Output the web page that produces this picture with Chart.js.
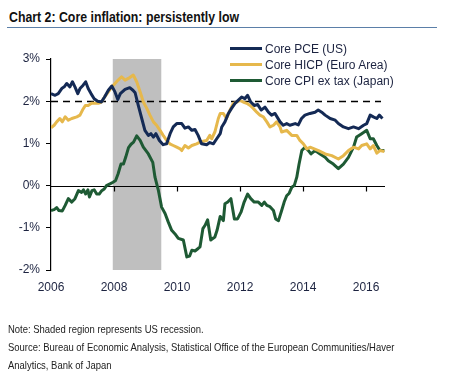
<!DOCTYPE html>
<html>
<head>
<meta charset="utf-8">
<script src="https://cdn.jsdelivr.net/npm/chart.js@4.4.1/dist/chart.umd.min.js"></script>
<style>
    html, body { margin: 0; padding: 0; background: #fff; }
    body { width: 449px; height: 387px; position: relative; overflow: hidden; font-family: "Liberation Sans", Arial, sans-serif; }
    #title { position: absolute; left: 9px; top: 9px; font: bold 14px "Liberation Sans", sans-serif; color: #111; white-space: nowrap; transform: scaleX(0.88); transform-origin: left top; }
    #rule { position: absolute; left: 7px; top: 27px; width: 430px; height: 0; border-top: 1.5px solid #5b7fa8; }
    #chart { position: absolute; left: 0; top: 0; }
    .legend { position: absolute; left: 230px; font-size: 12px; color: #1c2340; white-space: nowrap; }
    .legend span { display: inline-block; width: 32px; height: 3px; vertical-align: middle; margin-right: 3px; position: relative; top: -1px; }
    #notes { position: absolute; left: 8px; top: 320px; font: 11px "Liberation Sans", sans-serif; color: #222; line-height: 18px; white-space: nowrap; transform: scaleX(0.86); transform-origin: left top; }
</style>
</head>
<body>
<div id="title">Chart 2: Core inflation: persistently low</div>
<div id="rule"></div>
<canvas id="chart" width="449" height="387"></canvas>
<div class="legend" style="top:42px"><span style="background:#142a55"></span>Core PCE (US)</div>
<div class="legend" style="top:58px"><span style="background:#e6b84c"></span>Core HICP (Euro Area)</div>
<div class="legend" style="top:74px"><span style="background:#1e5a34"></span>Core CPI ex tax (Japan)</div>
<div id="notes">Note: Shaded region represents US recession.<br>Source: Bureau of Economic Analysis, Statistical Office of the European Communities/Haver<br>Analytics, Bank of Japan</div>
<script>
// Core inflation, % y/y (x = decimal year)

const pceYears = [2006.0, 2006.13, 2006.23, 2006.34, 2006.42, 2006.5, 2006.6, 2006.68, 2006.76, 2006.85, 2006.92,
    2007.02, 2007.1, 2007.18, 2007.27, 2007.37, 2007.48, 2007.6, 2007.7, 2007.82, 2007.93,
    2008.03, 2008.12, 2008.2, 2008.35, 2008.5, 2008.6, 2008.67, 2008.77, 2008.88, 2008.98,
    2009.09, 2009.17, 2009.25, 2009.33, 2009.44, 2009.56, 2009.67, 2009.78, 2009.88, 2009.99,
    2010.15, 2010.25, 2010.36, 2010.47, 2010.57, 2010.67, 2010.78, 2010.94,
    2011.04, 2011.15, 2011.26, 2011.37, 2011.42, 2011.52, 2011.63, 2011.73, 2011.84, 2011.94,
    2012.05, 2012.15, 2012.24, 2012.34, 2012.45, 2012.56, 2012.67, 2012.79, 2012.9,
    2013.0, 2013.11, 2013.27, 2013.37, 2013.48, 2013.58, 2013.75, 2013.85, 2013.95,
    2014.06, 2014.22, 2014.38, 2014.48, 2014.59, 2014.7, 2014.86,
    2015.02, 2015.12, 2015.28, 2015.44, 2015.6, 2015.76, 2015.92,
    2016.02, 2016.13, 2016.23, 2016.34, 2016.42, 2016.52];
const pceValues = [2.18, 2.14, 2.18, 2.30, 2.34, 2.42, 2.34, 2.46, 2.34, 2.18, 2.30,
    2.38, 2.46, 2.30, 2.18, 2.06, 2.00, 1.98, 2.10, 2.26, 2.36,
    2.22, 2.04, 2.18, 2.28, 2.32, 2.26, 2.20, 1.90, 1.59, 1.31,
    1.19, 1.23, 1.15, 1.23, 1.07, 0.97, 0.99, 1.23, 1.39, 1.47,
    1.47, 1.36, 1.39, 1.31, 1.33, 1.19, 0.99, 0.97,
    1.02, 0.99, 1.11, 1.23, 1.39, 1.51, 1.71, 1.83, 1.95, 2.02,
    2.10, 2.06, 2.14, 1.98, 1.90, 1.92, 1.79, 1.86, 1.74,
    1.67, 1.71, 1.51, 1.43, 1.47, 1.43, 1.47, 1.44, 1.59,
    1.67, 1.71, 1.74, 1.79, 1.74, 1.67, 1.59,
    1.55, 1.47, 1.39, 1.35, 1.39, 1.35, 1.43,
    1.47, 1.67, 1.63, 1.59, 1.67, 1.59];

const hicpYears = [2006.0, 2006.1, 2006.18, 2006.28, 2006.36, 2006.45, 2006.55, 2006.66, 2006.82, 2006.92,
    2007.0, 2007.09, 2007.18, 2007.29, 2007.4, 2007.5, 2007.6, 2007.7, 2007.82, 2007.93,
    2008.03, 2008.13, 2008.24, 2008.35, 2008.5, 2008.61, 2008.72, 2008.83, 2008.93,
    2009.04, 2009.14, 2009.25, 2009.35, 2009.46, 2009.56, 2009.67, 2009.77, 2009.88, 2009.99,
    2010.1, 2010.15, 2010.25, 2010.36, 2010.47, 2010.62, 2010.73, 2010.83, 2010.94,
    2011.04, 2011.1, 2011.2, 2011.31, 2011.37, 2011.47, 2011.57, 2011.68, 2011.79, 2011.9,
    2012.0, 2012.1, 2012.21, 2012.32, 2012.42, 2012.53, 2012.63, 2012.74, 2012.85, 2012.95,
    2013.06, 2013.16, 2013.27, 2013.32, 2013.48, 2013.64, 2013.8, 2013.9,
    2014.01, 2014.12, 2014.22, 2014.49, 2014.7, 2014.91,
    2015.12, 2015.28, 2015.44, 2015.6, 2015.76, 2015.86,
    2016.02, 2016.13, 2016.23, 2016.34, 2016.44, 2016.58];
const hicpValues = [1.37, 1.43, 1.51, 1.59, 1.51, 1.63, 1.55, 1.59, 1.63, 1.67,
    1.79, 1.90, 1.90, 1.95, 1.95, 1.95, 1.98, 2.10, 2.22, 2.34,
    2.42, 2.50, 2.58, 2.50, 2.56, 2.62, 2.46, 2.22, 1.98,
    1.83, 1.67, 1.51, 1.43, 1.31, 1.19, 1.07, 0.99, 0.95, 0.91,
    0.87, 0.83, 0.95, 0.89, 0.95, 0.99, 1.03, 1.05, 1.07,
    1.19, 1.11, 1.27, 1.59, 1.71, 1.71, 1.59, 1.79, 1.95, 1.98,
    2.02, 1.98, 1.95, 1.90, 1.83, 1.74, 1.67, 1.63, 1.51, 1.39,
    1.43, 1.51, 1.39, 1.27, 1.31, 1.19, 1.19, 1.07,
    0.99, 0.87, 0.91, 0.83, 0.75, 0.71,
    0.63, 0.71, 0.83, 0.91, 0.87, 0.95,
    0.99, 0.87, 0.95, 0.77, 0.83, 0.81];

const japanYears = [2006.0, 2006.1, 2006.18, 2006.25, 2006.36, 2006.45, 2006.55, 2006.66, 2006.76, 2006.87, 2006.97,
    2007.03, 2007.1, 2007.17, 2007.22, 2007.3, 2007.37, 2007.45, 2007.53, 2007.61, 2007.69, 2007.76, 2007.87, 2007.97,
    2008.05, 2008.13, 2008.22, 2008.3, 2008.37, 2008.46, 2008.54, 2008.62, 2008.72, 2008.83, 2008.93,
    2009.09, 2009.23, 2009.3, 2009.41, 2009.51, 2009.62, 2009.72, 2009.83, 2009.93,
    2010.04, 2010.2, 2010.31, 2010.4, 2010.47, 2010.57, 2010.67, 2010.73, 2010.82, 2010.89, 2010.97,
    2011.07, 2011.2, 2011.27, 2011.37, 2011.47, 2011.52, 2011.61, 2011.71, 2011.82, 2011.92,
    2012.03, 2012.13, 2012.24, 2012.34, 2012.45, 2012.58, 2012.69, 2012.77, 2012.85, 2012.95,
    2013.06, 2013.13, 2013.22, 2013.32, 2013.4, 2013.48, 2013.56, 2013.64, 2013.72, 2013.8, 2013.87, 2013.96,
    2014.06, 2014.17, 2014.25, 2014.38, 2014.54, 2014.7, 2014.8, 2014.96,
    2015.12, 2015.28, 2015.44, 2015.6, 2015.7, 2015.86,
    2016.02, 2016.13, 2016.23, 2016.34, 2016.44, 2016.58];
const japanValues = [-0.59, -0.57, -0.52, -0.59, -0.60, -0.47, -0.31, -0.39, -0.31, -0.12, -0.16,
    -0.10, -0.20, -0.10, -0.27, -0.12, -0.10, -0.20, -0.20, -0.12, -0.08, 0.0, 0.04, 0.08,
    0.12, 0.28, 0.51, 0.51, 0.67, 0.90, 0.98, 1.03, 1.18, 1.07, 0.91,
    0.75, 0.55, 0.20, -0.12, -0.51, -0.66, -0.86, -1.06, -1.14,
    -1.25, -1.29, -1.69, -1.67, -1.53, -1.55, -1.49, -1.45, -1.02, -0.94, -0.81,
    -1.29, -1.22, -1.06, -0.73, -0.83, -0.43, -0.39, -0.31, -0.79, -0.79,
    -0.63, -0.39, -0.20, -0.31, -0.39, -0.39, -0.47, -0.39, -0.47, -0.50,
    -0.59, -0.79, -0.83, -0.59, -0.39, -0.24, -0.18, -0.04, 0.0, 0.20, 0.50, 0.83,
    0.91, 0.83, 0.75, 0.83, 0.75, 0.67, 0.59, 0.51,
    0.40, 0.51, 0.67, 0.91, 1.15, 1.23,
    1.31, 1.11, 1.11, 0.95, 0.83, 0.83];

const recession = [2007.96, 2009.5];
const xTicks = [2006, 2008, 2010, 2012, 2014, 2016];
const yTicks = [-2, -1, 0, 1, 2, 3];
const targetLine = 2;

const toPoints = (xs, ys) => xs.map((x, i) => ({ x: x, y: ys[i] }));

const backdropPlugin = {
    id: 'backdrop',
    beforeDatasetsDraw(chart) {
        const { ctx, chartArea, scales } = chart;
        const x = scales.x, y = scales.y;
        ctx.save();

        // recession shading
        const x0 = x.getPixelForValue(recession[0]);
        const x1 = x.getPixelForValue(recession[1]);
        ctx.fillStyle = '#bfbfbf';
        ctx.fillRect(x0, chartArea.top, x1 - x0, chartArea.bottom - chartArea.top);

        // 2% dashed line
        const yT = Math.round(y.getPixelForValue(targetLine)) + 0.5;
        ctx.strokeStyle = '#000';
        ctx.lineWidth = 1.5;
        ctx.setLineDash([7, 5]);
        ctx.beginPath();
        ctx.moveTo(chartArea.left, yT);
        ctx.lineTo(chartArea.right - 4, yT);
        ctx.stroke();

        // zero axis with ticks
        const y0 = Math.round(y.getPixelForValue(0)) + 0.5;
        ctx.setLineDash([]);
        ctx.lineWidth = 1.2;
        ctx.beginPath();
        ctx.moveTo(chartArea.left, y0);
        ctx.lineTo(chartArea.right, y0);
        xTicks.slice(1).forEach(v => {
            const px = Math.round(x.getPixelForValue(v)) + 0.5;
            ctx.moveTo(px, y0);
            ctx.lineTo(px, y0 + 5);
        });
        ctx.stroke();
        ctx.restore();
    }
};

new Chart(document.getElementById('chart'), {
    type: 'line',
    plugins: [backdropPlugin],
    data: {
        datasets: [
            { label: 'Core PCE (US)', data: toPoints(pceYears, pceValues), borderColor: '#142a55' },
            { label: 'Core HICP (Euro Area)', data: toPoints(hicpYears, hicpValues), borderColor: '#e6b84c' },
            { label: 'Core CPI ex tax (Japan)', data: toPoints(japanYears, japanValues), borderColor: '#1e5a34' }
        ]
    },
    options: {
        responsive: false,
        animation: false,
        events: [],
        layout: { padding: { left: 6, top: 59, right: 64, bottom: 87 } },
        elements: {
            point: { radius: 0 },
            line: { borderWidth: 3, tension: 0, borderJoinStyle: 'round' }
        },
        plugins: { legend: { display: false }, tooltip: { enabled: false } },
        scales: {
            x: {
                type: 'linear',
                min: 2006,
                max: 2016.6,
                afterBuildTicks: scale => { scale.ticks = xTicks.map(v => ({ value: v })); },
                afterFit: scale => { scale.height = 30; },
                grid: { display: false, drawTicks: false },
                border: { display: false },
                ticks: {
                    padding: 10,
                    color: '#1c2340',
                    font: { family: 'Liberation Sans', size: 12 },
                    maxRotation: 0,
                    callback: v => String(v)
                }
            },
            y: {
                min: -2,
                max: 3,
                afterBuildTicks: scale => { scale.ticks = yTicks.map(v => ({ value: v })); },
                afterFit: scale => { scale.width = 45; },
                grid: { drawOnChartArea: false, drawTicks: true, tickLength: 5, color: '#000' },
                border: { display: true, color: '#000', width: 1.2 },
                ticks: {
                    padding: 6,
                    color: '#1c2340',
                    font: { family: 'Liberation Sans', size: 12 },
                    callback: v => v + '%'
                }
            }
        }
    }
});
</script>
</body>
</html>
